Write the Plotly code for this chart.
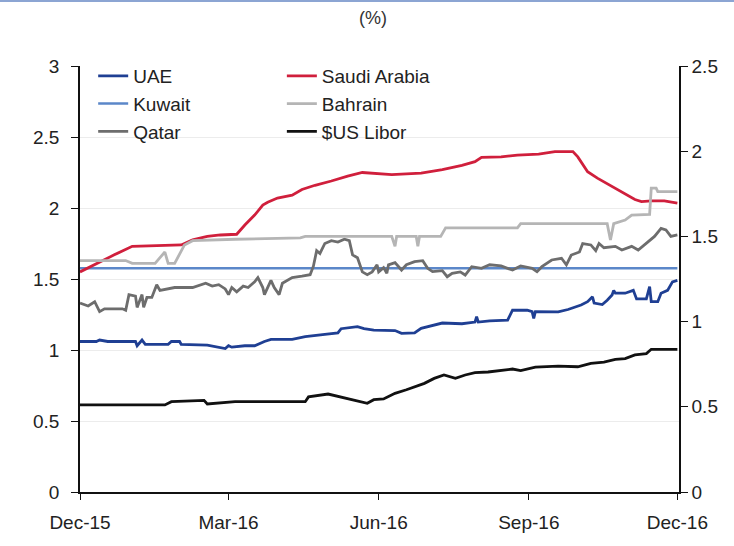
import plotly.graph_objects as go

# GCC 3-month interbank rates vs $US Libor (%), Dec-15 to Dec-16

uae_dates = ['2015-12-01', '2015-12-11', '2015-12-13', '2015-12-18', '2016-01-04', '2016-01-05',
             '2016-01-08', '2016-01-10', '2016-01-24', '2016-01-26', '2016-01-31', '2016-02-01',
             '2016-02-17', '2016-02-28', '2016-03-01', '2016-03-03', '2016-03-11', '2016-03-17',
             '2016-03-23', '2016-03-27', '2016-04-09', '2016-04-17', '2016-04-29', '2016-05-07',
             '2016-05-09', '2016-05-17', '2016-05-19', '2016-05-23', '2016-05-29', '2016-06-11',
             '2016-06-15', '2016-06-23', '2016-06-27', '2016-07-10', '2016-07-22', '2016-07-30',
             '2016-07-31', '2016-08-01', '2016-08-08', '2016-08-19', '2016-08-22', '2016-08-31',
             '2016-09-03', '2016-09-04', '2016-09-05', '2016-09-19', '2016-09-25', '2016-10-03',
             '2016-10-07', '2016-10-10', '2016-10-11', '2016-10-16', '2016-10-19', '2016-10-22',
             '2016-10-23', '2016-10-24', '2016-10-30', '2016-11-04', '2016-11-06', '2016-11-12',
             '2016-11-14', '2016-11-15', '2016-11-19', '2016-11-21', '2016-11-25', '2016-11-28',
             '2016-12-01']
uae = [1.06, 1.06, 1.07, 1.06, 1.06, 1.03,
       1.07, 1.04, 1.04, 1.06, 1.06, 1.04,
       1.035, 1.01, 1.03, 1.02, 1.03, 1.03,
       1.06, 1.075, 1.075, 1.094, 1.11, 1.12,
       1.15, 1.16, 1.164, 1.15, 1.14, 1.137,
       1.117, 1.12, 1.153, 1.19, 1.185, 1.197,
       1.235, 1.197, 1.205, 1.21, 1.28, 1.28,
       1.27, 1.223, 1.27, 1.268, 1.285, 1.317,
       1.34, 1.375, 1.33, 1.32, 1.35, 1.387,
       1.42, 1.40, 1.40, 1.42, 1.36, 1.36,
       1.446, 1.34, 1.34, 1.40, 1.42, 1.48,
       1.49]

saudi_dates = ['2015-12-01', '2015-12-13', '2015-12-22', '2016-01-02', '2016-01-13', '2016-02-01',
               '2016-02-08', '2016-02-17', '2016-02-25', '2016-03-06', '2016-03-11', '2016-03-17',
               '2016-03-22', '2016-03-25', '2016-03-31', '2016-04-09', '2016-04-15', '2016-04-23',
               '2016-05-03', '2016-05-13', '2016-05-22', '2016-05-29', '2016-06-09', '2016-06-27',
               '2016-07-10', '2016-07-22', '2016-07-30', '2016-08-03', '2016-08-15', '2016-08-25',
               '2016-09-07', '2016-09-17', '2016-09-28', '2016-10-01', '2016-10-07', '2016-10-13',
               '2016-10-22', '2016-10-28', '2016-11-05', '2016-11-09', '2016-11-15', '2016-11-23',
               '2016-12-01']
saudi = [1.55, 1.62, 1.67, 1.73, 1.735, 1.74,
         1.775, 1.80, 1.81, 1.815, 1.88, 1.95,
         2.02, 2.04, 2.07, 2.09, 2.13, 2.16,
         2.19, 2.225, 2.25, 2.245, 2.235, 2.245,
         2.27, 2.30, 2.326, 2.357, 2.36, 2.373,
         2.38, 2.397, 2.397, 2.36, 2.256, 2.21,
         2.15, 2.115, 2.06, 2.045, 2.05, 2.05,
         2.035]

kuwait_dates = ['2015-12-01', '2016-12-01']
kuwait = [1.575, 1.575]

bahrain_dates = ['2015-12-01', '2015-12-29', '2016-01-02', '2016-01-16', '2016-01-19', '2016-01-22',
                 '2016-01-24', '2016-01-28', '2016-02-03', '2016-02-08', '2016-03-05', '2016-04-14',
                 '2016-04-17', '2016-06-09', '2016-06-11', '2016-06-12', '2016-06-24', '2016-06-25',
                 '2016-06-26', '2016-07-09', '2016-07-12', '2016-08-25', '2016-08-27', '2016-10-19',
                 '2016-10-21', '2016-10-23', '2016-10-30', '2016-11-03', '2016-11-14', '2016-11-15',
                 '2016-11-18', '2016-11-19', '2016-12-01']
bahrain = [1.63, 1.63, 1.61, 1.61, 1.65, 1.69,
           1.61, 1.61, 1.74, 1.77, 1.78, 1.79,
           1.80, 1.80, 1.73, 1.80, 1.80, 1.73,
           1.80, 1.80, 1.86, 1.86, 1.89, 1.89,
           1.775, 1.89, 1.915, 1.95, 1.955, 2.14,
           2.14, 2.115, 2.115]

qatar_dates = ['2015-12-01', '2015-12-06', '2015-12-10', '2015-12-13', '2015-12-16', '2015-12-27',
               '2015-12-29', '2015-12-30', '2015-12-31', '2016-01-04', '2016-01-05', '2016-01-08',
               '2016-01-09', '2016-01-11', '2016-01-14', '2016-01-17', '2016-01-19', '2016-01-28',
               '2016-02-08', '2016-02-16', '2016-02-20', '2016-02-24', '2016-02-28', '2016-03-01',
               '2016-03-03', '2016-03-06', '2016-03-10', '2016-03-13', '2016-03-17', '2016-03-19',
               '2016-03-22', '2016-03-23', '2016-03-27', '2016-03-29', '2016-04-01', '2016-04-03',
               '2016-04-09', '2016-04-15', '2016-04-20', '2016-04-22', '2016-04-24', '2016-04-26',
               '2016-04-29', '2016-05-03', '2016-05-07', '2016-05-11', '2016-05-14', '2016-05-16',
               '2016-05-19', '2016-05-22', '2016-05-25', '2016-05-28', '2016-05-31', '2016-06-01',
               '2016-06-04', '2016-06-06', '2016-06-07', '2016-06-11', '2016-06-15', '2016-06-18',
               '2016-06-23', '2016-06-28', '2016-07-01', '2016-07-04', '2016-07-10', '2016-07-13',
               '2016-07-16', '2016-07-21', '2016-07-24', '2016-07-28', '2016-08-03', '2016-08-08',
               '2016-08-15', '2016-08-22', '2016-08-27', '2016-09-03', '2016-09-06', '2016-09-09',
               '2016-09-15', '2016-09-21', '2016-09-24', '2016-09-27', '2016-10-02', '2016-10-04',
               '2016-10-09', '2016-10-12', '2016-10-14', '2016-10-17', '2016-10-24', '2016-10-28',
               '2016-11-03', '2016-11-07', '2016-11-12', '2016-11-17', '2016-11-21', '2016-11-24',
               '2016-11-27', '2016-12-01']
qatar = [1.33, 1.31, 1.34, 1.27, 1.29, 1.29,
         1.28, 1.35, 1.39, 1.38, 1.30, 1.39,
         1.30, 1.37, 1.37, 1.46, 1.42, 1.44,
         1.44, 1.47, 1.45, 1.46, 1.43, 1.39,
         1.44, 1.41, 1.45, 1.44, 1.48, 1.51,
         1.44, 1.39, 1.49, 1.44, 1.39, 1.47,
         1.51, 1.52, 1.53, 1.59, 1.70, 1.68,
         1.75, 1.77, 1.76, 1.78, 1.77, 1.67,
         1.65, 1.55, 1.53, 1.55, 1.60, 1.55,
         1.58, 1.54, 1.60, 1.615, 1.563, 1.60,
         1.622, 1.629, 1.575, 1.552, 1.559, 1.516,
         1.54, 1.55, 1.528, 1.587, 1.575, 1.60,
         1.592, 1.563, 1.592, 1.575, 1.552, 1.587,
         1.634, 1.646, 1.60, 1.669, 1.69, 1.75,
         1.74, 1.70, 1.75, 1.72, 1.73, 1.704,
         1.73, 1.704, 1.75, 1.80, 1.857, 1.845,
         1.80, 1.81]

libor_dates = ['2015-12-01', '2016-01-22', '2016-01-26', '2016-02-15', '2016-02-17', '2016-03-05',
               '2016-04-17', '2016-04-19', '2016-05-01', '2016-05-05', '2016-05-19', '2016-05-25',
               '2016-05-29', '2016-06-04', '2016-06-11', '2016-06-18', '2016-06-29', '2016-07-05',
               '2016-07-11', '2016-07-18', '2016-07-24', '2016-07-30', '2016-08-07', '2016-08-15',
               '2016-08-22', '2016-08-27', '2016-09-05', '2016-09-19', '2016-10-01', '2016-10-09',
               '2016-10-17', '2016-10-24', '2016-10-30', '2016-11-05', '2016-11-12', '2016-11-15',
               '2016-12-01']
libor = [0.613, 0.613, 0.636, 0.645, 0.62, 0.636,
         0.636, 0.67, 0.69, 0.68, 0.645, 0.625,
         0.65, 0.655, 0.695, 0.72, 0.765, 0.80,
         0.824, 0.80, 0.824, 0.84, 0.845, 0.859,
         0.866, 0.855, 0.88, 0.887, 0.882, 0.906,
         0.915, 0.934, 0.94, 0.965, 0.975, 1.005,
         1.005]

tick_dates = ['2015-12-01', '2016-03-01', '2016-06-01', '2016-09-01', '2016-12-01']
tick_text = ['Dec-15', 'Mar-16', 'Jun-16', 'Sep-16', 'Dec-16']

font_name = 'Liberation Sans, Arial, sans-serif'

fig = go.Figure()

# column 1 of the legend
fig.add_trace(go.Scatter(x=uae_dates, y=uae, mode='lines', name='UAE',
                         line=dict(color='#1f3f93', width=2.8), legend='legend'))
fig.add_trace(go.Scatter(x=kuwait_dates, y=kuwait, mode='lines', name='Kuwait',
                         line=dict(color='#5b87c9', width=2.5), legend='legend'))
fig.add_trace(go.Scatter(x=qatar_dates, y=qatar, mode='lines', name='Qatar',
                         line=dict(color='#6d6d6d', width=2.8), legend='legend'))
# column 2 of the legend
fig.add_trace(go.Scatter(x=saudi_dates, y=saudi, mode='lines', name='Saudi Arabia',
                         line=dict(color='#d01f3c', width=2.8), legend='legend2'))
fig.add_trace(go.Scatter(x=bahrain_dates, y=bahrain, mode='lines', name='Bahrain',
                         line=dict(color='#b5b5b5', width=2.8), legend='legend2'))
fig.add_trace(go.Scatter(x=libor_dates, y=libor, mode='lines', name='$US Libor',
                         line=dict(color='#111111', width=2.8), legend='legend2'))
# empty trace so the right-hand scale is drawn
fig.add_trace(go.Scatter(x=[], y=[], yaxis='y2', showlegend=False, hoverinfo='skip'))

legend_style = dict(bgcolor='rgba(0,0,0,0)', font=dict(family=font_name, size=19, color='#222'),
                    yanchor='top', xanchor='left', itemwidth=30, tracegroupgap=0)

fig.update_layout(
    width=734, height=546,
    margin=dict(l=80, r=55, t=66, b=54),
    plot_bgcolor='white', paper_bgcolor='white',
    font=dict(family=font_name, size=19, color='#222'),
    legend=dict(x=0.022, y=1.021, **legend_style),
    legend2=dict(x=0.337, y=1.021, **legend_style),
    xaxis=dict(type='date', range=['2015-12-01', '2016-12-02'],
               tickvals=tick_dates, ticktext=tick_text,
               showline=True, linecolor='#111', linewidth=1.5,
               ticks='outside', ticklen=6, tickcolor='#111', showgrid=False,
               ticklabelstandoff=6, tickfont=dict(size=19)),
    yaxis=dict(range=[0, 3], dtick=0.5, showline=True, linecolor='#111', linewidth=1.5,
               ticks='outside', ticklen=7, tickcolor='#111',
               showgrid=True, gridcolor='#ececec', gridwidth=1, zeroline=False,
               ticklabelstandoff=8, tickfont=dict(size=19)),
    yaxis2=dict(range=[0, 2.5], dtick=0.5, overlaying='y', side='right', anchor='x',
                showline=True, linecolor='#111', linewidth=1.5,
                ticks='outside', ticklen=7, tickcolor='#111',
                showgrid=False, zeroline=False, tickfont=dict(size=19)),
    annotations=[dict(text='(%)', xref='paper', yref='paper', x=0.489, y=1.14,
                      xanchor='center', yanchor='top', showarrow=False,
                      font=dict(family=font_name, size=18, color='#333'))],
    shapes=[dict(type='line', xref='paper', yref='paper', x0=-0.14, x1=1.1,
                 y0=1.1526, y1=1.1526, line=dict(color='#8ca5d3', width=2))],
)

# drop the browser's default page margin so the figure sits at the window's corner
fig.write_html('out.html', config={'displayModeBar': False},
               post_script="document.body.style.margin='0';")
